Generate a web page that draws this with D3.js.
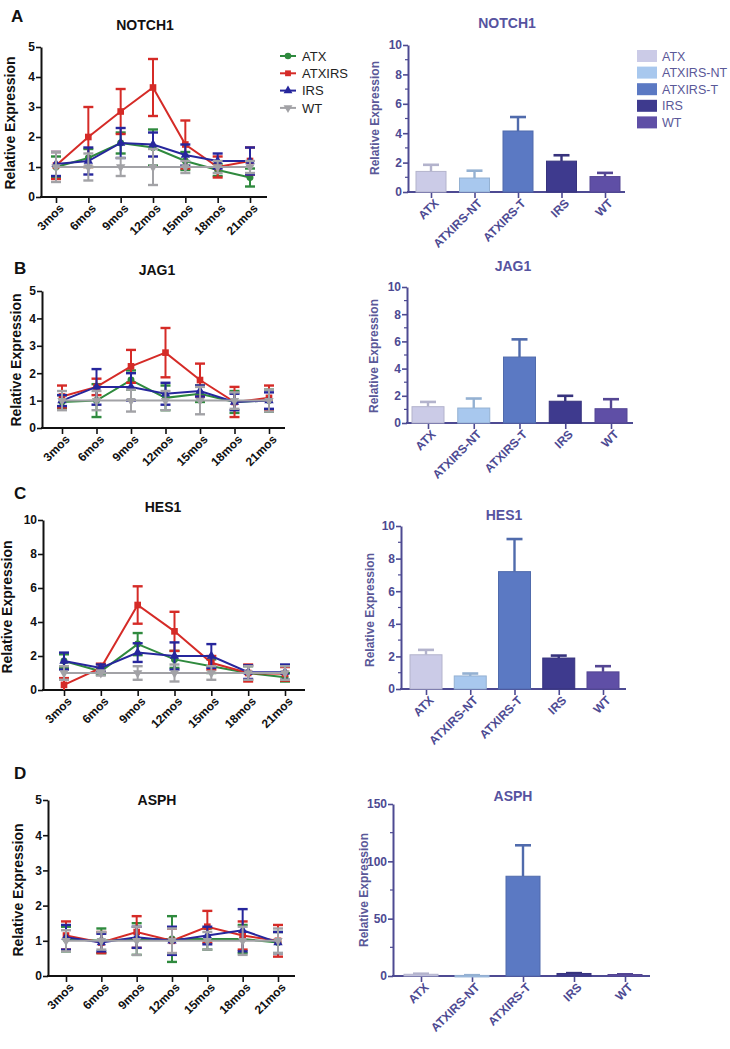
<!DOCTYPE html>
<html><head><meta charset="utf-8">
<script src="https://cdn.jsdelivr.net/npm/d3@7"></script>
<style>
body{margin:0;background:#fff}
svg{display:block}
text{font-family:"Liberation Sans",Arial,sans-serif}
</style></head>
<body><svg id="c" width="730" height="1049"></svg>
<script>
// ---------- DATA ----------
const months = ["3mos","6mos","9mos","12mos","15mos","18mos","21mos"];
const lineSeries = ["ATX","ATXIRS","IRS","WT"];
const groups = ["ATX","ATXIRS-NT","ATXIRS-T","IRS","WT"];

// NOTCH1 time course (mean, SD)
const notch1_ATX     = [1.0,1.3,1.8,1.65,1.2,0.9,0.65];
const notch1_ATX_err = [0.35,0.3,0.35,0.6,0.3,0.2,0.3];
const notch1_ATXIRS     = [1.05,2.0,2.85,3.65,1.75,1.0,1.2];
const notch1_ATXIRS_err = [0.45,1.0,0.75,0.95,0.8,0.35,0.45];
const notch1_IRS     = [1.1,1.2,1.8,1.75,1.4,1.2,1.2];
const notch1_IRS_err = [0.4,0.45,0.5,0.4,0.35,0.25,0.45];
const notch1_WT     = [1,1,1,1,1,1,1];
const notch1_WT_err = [0.5,0.45,0.3,0.6,0.2,0.2,0.2];

// JAG1 time course
const jag1_ATX     = [0.95,1.0,1.75,1.1,1.25,0.95,1.0];
const jag1_ATX_err = [0.25,0.6,0.35,0.45,0.3,0.4,0.4];
const jag1_ATXIRS     = [1.15,1.5,2.25,2.75,1.75,0.95,1.1];
const jag1_ATXIRS_err = [0.4,0.3,0.6,0.9,0.6,0.55,0.45];
const jag1_IRS     = [1.0,1.5,1.5,1.25,1.35,0.95,1.0];
const jag1_IRS_err = [0.2,0.65,0.5,0.4,0.2,0.3,0.3];
const jag1_WT     = [1,1,1,1,1,1,1];
const jag1_WT_err = [0.35,0.35,0.4,0.35,0.5,0.3,0.4];

// HES1 time course
const hes1_ATX     = [1.7,1.1,2.7,1.8,1.4,1.0,0.75];
const hes1_ATX_err = [0.4,0.2,0.65,0.5,0.4,0.4,0.25];
const hes1_ATXIRS     = [0.3,1.3,5.0,3.45,1.6,1.0,0.95];
const hes1_ATXIRS_err = [0.4,0.25,1.1,1.15,0.4,0.5,0.4];
const hes1_IRS     = [1.7,1.3,2.2,2.0,2.0,1.05,1.05];
const hes1_IRS_err = [0.5,0.2,0.55,0.8,0.7,0.4,0.45];
const hes1_WT     = [1,1,1,1,1,1,1];
const hes1_WT_err = [0.4,0.15,0.4,0.5,0.4,0.4,0.4];

// ASPH time course
const asph_ATX     = [1.05,1.0,1.05,1.05,1.05,1.05,0.95];
const asph_ATX_err = [0.35,0.35,0.45,0.65,0.3,0.4,0.3];
const asph_ATXIRS     = [1.15,0.95,1.25,1.0,1.4,1.15,1.0];
const asph_ATXIRS_err = [0.4,0.3,0.45,0.35,0.45,0.4,0.45];
const asph_IRS     = [1.1,0.95,1.1,1.0,1.15,1.3,0.95];
const asph_IRS_err = [0.35,0.25,0.3,0.4,0.25,0.6,0.3];
const asph_WT     = [1,1,1,1,1,1,1];
const asph_WT_err = [0.3,0.25,0.4,0.35,0.25,0.4,0.35];

// Bar charts (mean, SD)
const notch1Bar     = [1.4,0.95,4.15,2.1,1.05];
const notch1Bar_err = [0.45,0.5,0.95,0.4,0.25];
const jag1Bar     = [1.2,1.1,4.85,1.6,1.05];
const jag1Bar_err = [0.35,0.7,1.3,0.4,0.7];
const hes1Bar     = [2.1,0.8,7.2,1.9,1.05];
const hes1Bar_err = [0.3,0.15,2.0,0.15,0.35];
const asphBar     = [1.5,0.5,87,2.2,1.3];
const asphBar_err = [0.5,0.2,27,0.3,0.2];

// ---------- STYLES ----------
const lineColor = {ATX:"#2f8a3e", ATXIRS:"#d52b27", IRS:"#26269c", WT:"#a2a2a6"};
const lineSym = {ATX:d3.symbolCircle, ATXIRS:d3.symbolSquare, IRS:d3.symbolTriangle, WT:d3.symbolTriangle};
const barColor = {"ATX":"#cbcbe7","ATXIRS-NT":"#a8c8ee","ATXIRS-T":"#5b79c3","IRS":"#3e3a8e","WT":"#5f4fa6"};
const purple = "#4d4a92";
const FONT = '"Liberation Sans",Arial,sans-serif';

const svg = d3.select("#c");

function letter(txt,x,y){
  svg.append("text").attr("x",x).attr("y",y).text(txt)
    .attr("font-size",17).attr("font-weight","bold").attr("fill","#111");
}

function linePanel(L, title, vals, errs, legend){
  const g = svg.append("g");
  const x = d3.scalePoint().domain(months).range([L.x0, L.x1]);
  const y = d3.scaleLinear().domain([0, L.ymax]).range([L.yb, L.yt]);
  const ya = g.append("g").attr("transform",`translate(${L.ax},0)`)
    .call(d3.axisLeft(y).tickValues(d3.range(0, L.ymax+0.001, L.step)).tickSize(5).tickSizeOuter(0).tickFormat(d3.format("d")));
  ya.select(".domain").attr("stroke","#111").attr("stroke-width",2);
  ya.selectAll(".tick line").attr("stroke","#111").attr("stroke-width",1.6);
  ya.selectAll(".tick text").attr("font-size",12).attr("font-weight","bold").attr("fill","#111").attr("font-family",FONT).attr("dx",2);
  const xa = g.append("g").attr("transform",`translate(0,${L.yb})`)
    .call(d3.axisBottom(x).tickSize(6).tickSizeOuter(0));
  xa.select(".domain").remove();
  xa.append("line").attr("x1",L.ax-1).attr("x2",L.xEnd).attr("stroke","#111").attr("stroke-width",2);
  xa.selectAll(".tick line").attr("stroke","#111").attr("stroke-width",1.6);
  xa.selectAll(".tick text").attr("font-size",12).attr("font-weight","bold").attr("fill","#111").attr("font-family",FONT)
    .attr("text-anchor","end").attr("transform","translate(5,9) rotate(-45)").attr("dy","0.35em").attr("y",0).attr("x",0);
  g.append("text").attr("transform",`translate(${L.lx},${L.ly}) rotate(-90)`).attr("text-anchor","middle")
    .attr("font-size",14).attr("font-weight","bold").attr("fill","#111").text("Relative Expression");
  g.append("text").attr("x",L.tx).attr("y",L.ty).attr("text-anchor","middle")
    .attr("font-size",14).attr("font-weight","bold").attr("fill","#111").text(title);
  lineSeries.forEach(s=>{
    const c = lineColor[s];
    const pts = months.map((m,i)=>({m, v:vals[s][i], e:errs[s][i]}));
    const sg = g.append("g");
    pts.forEach(p=>{
      const cx = x(p.m);
      sg.append("line").attr("x1",cx).attr("x2",cx).attr("y1",y(Math.max(0,p.v-p.e))).attr("y2",y(p.v+p.e)).attr("stroke",c).attr("stroke-width",2);
      [p.v-p.e, p.v+p.e].forEach(v=>{ if(v>=0) sg.append("line").attr("x1",cx-5).attr("x2",cx+5).attr("y1",y(v)).attr("y2",y(v)).attr("stroke",c).attr("stroke-width",2.4); });
    });
    sg.append("path").datum(pts).attr("fill","none").attr("stroke",c).attr("stroke-width",2)
      .attr("d",d3.line().x(p=>x(p.m)).y(p=>y(p.v)));
    pts.forEach(p=>{
      sg.append("path").attr("d",d3.symbol().type(lineSym[s]).size(s==="ATXIRS"?44:38)())
        .attr("transform",`translate(${x(p.m)},${y(p.v)})${s==="WT"?" rotate(180)":""}`).attr("fill",c);
    });
  });
  if(legend){
    lineSeries.forEach((s,i)=>{
      const yy = legend.y0 + i*legend.dy;
      const c = lineColor[s];
      g.append("line").attr("x1",legend.x).attr("x2",legend.x+16).attr("y1",yy).attr("y2",yy).attr("stroke",c).attr("stroke-width",2);
      g.append("path").attr("d",d3.symbol().type(lineSym[s]).size(34)())
        .attr("transform",`translate(${legend.x+8},${yy})${s==="WT"?" rotate(180)":""}`).attr("fill",c);
      g.append("text").attr("x",legend.x+22).attr("y",yy).attr("dy","0.36em").attr("font-size",13).attr("fill","#222").text(s);
    });
  }
}

function barPanel(L, title, vals, errs, legend){
  const g = svg.append("g");
  const x = d3.scalePoint().domain(groups).range([L.x0, L.x1]);
  const y = d3.scaleLinear().domain([0, L.ymax]).range([L.yb, L.yt]);
  const major = d3.range(0, L.ymax+0.001, L.step);
  const minor = d3.range(L.step/2, L.ymax, L.step);
  const ya = g.append("g").attr("transform",`translate(${L.ax},0)`)
    .call(d3.axisLeft(y).tickValues(major).tickSize(5).tickSizeOuter(0).tickFormat(d3.format("d")));
  ya.select(".domain").attr("stroke",purple).attr("stroke-width",2);
  ya.selectAll(".tick line").attr("stroke",purple).attr("stroke-width",1.6);
  ya.selectAll(".tick text").attr("font-size",12).attr("font-weight","bold").attr("fill",purple).attr("font-family",FONT).attr("dx",2);
  g.append("g").selectAll("line").data(minor).join("line")
    .attr("x1",L.ax-3).attr("x2",L.ax).attr("y1",d=>y(d)).attr("y2",d=>y(d)).attr("stroke",purple).attr("stroke-width",1.2);
  const xa = g.append("g").attr("transform",`translate(0,${L.yb})`)
    .call(d3.axisBottom(x).tickSize(6).tickSizeOuter(0));
  xa.select(".domain").remove();
  xa.selectAll(".tick line").attr("stroke",purple).attr("stroke-width",1.6);
  xa.selectAll(".tick text").attr("font-size",12).attr("font-weight","bold").attr("fill",purple).attr("font-family",FONT)
    .attr("text-anchor","end").attr("transform","translate(5,9) rotate(-45)").attr("dy","0.35em").attr("y",0).attr("x",0);
  g.append("text").attr("transform",`translate(${L.lx},${L.ly}) rotate(-90)`).attr("text-anchor","middle")
    .attr("font-size",12).attr("font-weight","bold").attr("fill","#5a5898").text("Relative Expression");
  g.append("text").attr("x",L.tx).attr("y",L.ty).attr("text-anchor","middle")
    .attr("font-size",14).attr("font-weight","bold").attr("fill","#5653a0").text(title);
  const bw = L.bw;
  groups.forEach((k,i)=>{
    const c = barColor[k];
    const dc = d3.color(c).darker(0.35).formatHex();
    const cx = x(k), top = y(vals[i]), et = y(vals[i]+errs[i]);
    g.append("line").attr("x1",cx).attr("x2",cx).attr("y1",top).attr("y2",et).attr("stroke",dc).attr("stroke-width",2.4);
    g.append("line").attr("x1",cx-8).attr("x2",cx+8).attr("y1",et).attr("y2",et).attr("stroke",dc).attr("stroke-width",2.6);
    g.append("rect").attr("x",cx-bw/2).attr("width",bw).attr("y",top).attr("height",Math.max(1.5,L.yb-top))
      .attr("fill",c).attr("stroke",dc).attr("stroke-width",1);
  });
  xa.append("line").attr("x1",L.ax-1).attr("x2",L.xEnd).attr("stroke",purple).attr("stroke-width",2);
  if(legend){
    groups.forEach((k,i)=>{
      const yy = legend.y0 + i*legend.dy;
      g.append("rect").attr("x",legend.x).attr("y",yy-6).attr("width",20).attr("height",12).attr("fill",barColor[k]);
      g.append("text").attr("x",legend.x+25).attr("y",yy).attr("dy","0.36em").attr("font-size",12.5).attr("fill","#5a5898").text(k);
    });
  }
}

// ---------- PANELS ----------
letter("A",11,22); letter("B",14,274); letter("C",14,499); letter("D",14,779);

linePanel({ax:41,xEnd:267,x0:56,x1:250,yb:197,yt:47,ymax:5,step:1,lx:15,ly:123,tx:145,ty:30}, "NOTCH1",
  {ATX:notch1_ATX, ATXIRS:notch1_ATXIRS, IRS:notch1_IRS, WT:notch1_WT},
  {ATX:notch1_ATX_err, ATXIRS:notch1_ATXIRS_err, IRS:notch1_IRS_err, WT:notch1_WT_err},
  {x:280, y0:56, dy:17.3});
barPanel({ax:408,xEnd:625,x0:431,x1:605,bw:30,yb:192,yt:45,ymax:10,step:2,lx:379,ly:118,tx:507,ty:28}, "NOTCH1",
  notch1Bar, notch1Bar_err, {x:637, y0:56, dy:16.6});

linePanel({ax:42,xEnd:285,x0:62,x1:269,yb:428,yt:291,ymax:5,step:1,lx:21,ly:360,tx:157,ty:275}, "JAG1",
  {ATX:jag1_ATX, ATXIRS:jag1_ATXIRS, IRS:jag1_IRS, WT:jag1_WT},
  {ATX:jag1_ATX_err, ATXIRS:jag1_ATXIRS_err, IRS:jag1_IRS_err, WT:jag1_WT_err});
barPanel({ax:407,xEnd:633,x0:428,x1:611,bw:32,yb:423,yt:287,ymax:10,step:2,lx:378,ly:356,tx:513,ty:271}, "JAG1",
  jag1Bar, jag1Bar_err);

linePanel({ax:43,xEnd:305,x0:64,x1:285,yb:690,yt:520,ymax:10,step:2,lx:12,ly:607,tx:163,ty:512}, "HES1",
  {ATX:hes1_ATX, ATXIRS:hes1_ATXIRS, IRS:hes1_IRS, WT:hes1_WT},
  {ATX:hes1_ATX_err, ATXIRS:hes1_ATXIRS_err, IRS:hes1_IRS_err, WT:hes1_WT_err});
barPanel({ax:401,xEnd:626,x0:426,x1:603,bw:32,yb:689,yt:526,ymax:10,step:2,lx:374,ly:610,tx:504,ty:520}, "HES1",
  hes1Bar, hes1Bar_err);

linePanel({ax:48,xEnd:295,x0:66,x1:278,yb:976,yt:800,ymax:5,step:1,lx:23,ly:890,tx:157,ty:805}, "ASPH",
  {ATX:asph_ATX, ATXIRS:asph_ATXIRS, IRS:asph_IRS, WT:asph_WT},
  {ATX:asph_ATX_err, ATXIRS:asph_ATXIRS_err, IRS:asph_IRS_err, WT:asph_WT_err});
barPanel({ax:393,xEnd:650,x0:421,x1:625,bw:34,yb:976,yt:804,ymax:150,step:50,lx:368,ly:890,tx:513,ty:801}, "ASPH",
  asphBar, asphBar_err);
</script></body></html>
